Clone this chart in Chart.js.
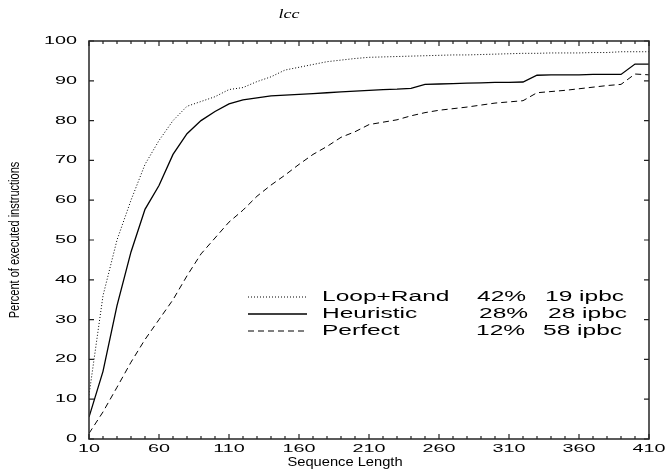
<!DOCTYPE html>
<html><head><meta charset="utf-8">
<script src="https://cdn.jsdelivr.net/npm/chart.js@4/dist/chart.umd.min.js"></script>
<style>html,body{margin:0;padding:0;background:#fff}#wrap{width:665px;height:470px}</style>
</head><body><div id="wrap"><canvas id="c" width="665" height="470"></canvas></div>
<script>
const title = "lcc";
const xLabel = "Sequence Length";
const yLabel = "Percent of executed instructions";
const seqLength = [10,20,30,40,50,60,70,80,90,100,110,120,130,140,150,160,170,180,190,200,210,220,230,240,250,260,270,280,290,300,310,320,330,340,350,360,370,380,390,400,410];
const loopRand = [11,36,50,60,69,75,80,83.6,84.8,86,87.8,88.3,89.8,91,92.7,93.4,94.1,94.8,95.2,95.6,95.9,96.0,96.1,96.2,96.3,96.4,96.5,96.5,96.6,96.7,96.8,96.9,96.9,97,97,97,97.1,97.1,97.3,97.3,97.3];
const heuristic = [5.5,17,33.5,47,57.7,63.7,71.5,76.7,80,82.3,84.2,85.2,85.7,86.2,86.4,86.6,86.8,87.0,87.2,87.4,87.6,87.8,87.9,88.1,89.1,89.2,89.3,89.4,89.5,89.6,89.6,89.7,91.4,91.5,91.5,91.5,91.6,91.6,91.6,94.2,94.2];
const perfect = [1.4,6.8,13,19.3,25,30,35,41,46.5,50.5,54.5,57.5,61,63.8,66.3,69,71.5,73.5,75.8,77.2,79,79.6,80.2,81.2,82,82.6,83,83.4,83.9,84.4,84.7,85,87,87.3,87.6,88,88.4,88.8,89.1,91.7,91.5];
const seriesNames = ["Loop+Rand","Heuristic","Perfect"];
const seriesPct = ["42%","28%","12%"];
const seriesIpbc = ["19 ipbc","28 ipbc","58 ipbc"];
const xTicks = [10,60,110,160,210,260,310,360,410];
const xMinorTicks = [10,20,30,40,50,60,70,80,90,100,110,120,130,140,150,160,170,180,190,200,210,220,230,240,250,260,270,280,290,300,310,320,330,340,350,360,370,380,390,400,410];
const yTicks = [0,10,20,30,40,50,60,70,80,90,100];

const dashes = [[1,2],[],[6,4]];
const widths = [1,1.3,1];

function toPts(arr){ return seqLength.map((x,i)=>({x:x,y:arr[i]})); }

const SX = 1.8;
function stretchText(ctx, txt, x, y, align, sx){
  ctx.save();
  ctx.translate(x, y);
  ctx.scale(sx, 1);
  ctx.textAlign = align;
  ctx.fillText(txt, 0, 0);
  ctx.restore();
}

const decor = {
  id:'decor',
  afterDraw(chart){
    const ctx = chart.ctx, a = chart.chartArea;
    const xs = chart.scales.x, ys = chart.scales.y;
    ctx.save();
    // frame
    ctx.strokeStyle = '#333';
    ctx.lineWidth = 1.6;
    ctx.strokeRect(a.left, a.top, a.right-a.left, a.bottom-a.top);
    // ticks
    ctx.lineWidth = 1.2;
    ctx.strokeStyle = '#222';
    ctx.beginPath();
    xMinorTicks.forEach(v=>{
      const p = xs.getPixelForValue(v);
      const L = xTicks.includes(v) ? 5 : 3;
      ctx.moveTo(p, a.bottom); ctx.lineTo(p, a.bottom-L);
      ctx.moveTo(p, a.top); ctx.lineTo(p, a.top+L);
    });
    yTicks.forEach(v=>{
      const p = ys.getPixelForValue(v);
      ctx.moveTo(a.left, p); ctx.lineTo(a.left+5, p);
      ctx.moveTo(a.right, p); ctx.lineTo(a.right-5, p);
    });
    ctx.stroke();
    // tick labels
    ctx.fillStyle = '#000';
    ctx.font = '11px "Liberation Sans", Arial, sans-serif';
    ctx.textBaseline = 'middle';
    yTicks.forEach(v=>{
      stretchText(ctx, String(v), a.left-12, ys.getPixelForValue(v), 'right', SX);
    });
    ctx.textBaseline = 'top';
    xTicks.forEach(v=>{
      stretchText(ctx, String(v), xs.getPixelForValue(v), a.bottom+4, 'center', SX);
    });
    // axis titles
    ctx.font = '13px "Liberation Sans", Arial, sans-serif';
    ctx.textBaseline = 'alphabetic';
    stretchText(ctx, xLabel, 345, 466, 'center', 1.13);
    ctx.font = '11px "Liberation Sans", Arial, sans-serif';
    ctx.save();
    ctx.translate(19, 240);
    ctx.rotate(-Math.PI/2);
    ctx.scale(1, 1.3);
    ctx.textAlign = 'center';
    ctx.fillText(yLabel, 0, 0);
    ctx.restore();
    // title
    ctx.font = 'italic 12px "Liberation Serif", "Times New Roman", serif';
    stretchText(ctx, title, 289, 18, 'center', 1.5);
    // legend
    const rows = [297, 314, 331];
    const pctX = [477, 479, 476];
    const ipbcX = [545, 548, 543];
    ctx.font = '14px "Liberation Sans", Arial, sans-serif';
    ctx.textBaseline = 'middle';
    rows.forEach((y,i)=>{
      ctx.save();
      ctx.strokeStyle = '#000';
      ctx.lineWidth = widths[i];
      ctx.setLineDash(dashes[i]);
      ctx.beginPath(); ctx.moveTo(248, y); ctx.lineTo(307, y); ctx.stroke();
      ctx.restore();
      stretchText(ctx, seriesNames[i], 322, y, 'left', 1.75);
      stretchText(ctx, seriesPct[i], pctX[i], y, 'left', 1.75);
      stretchText(ctx, seriesIpbc[i], ipbcX[i], y, 'left', 1.75);
    });
    ctx.restore();
  }
};

new Chart(document.getElementById('c'), {
  type:'line',
  data:{
    datasets:[loopRand, heuristic, perfect].map((arr,i)=>({
      label: seriesNames[i],
      data: toPts(arr),
      borderColor:'#000',
      borderWidth: widths[i],
      borderDash: dashes[i],
      pointRadius:0,
      tension:0,
      fill:false
    }))
  },
  options:{
    responsive:false,
    animation:false,
    devicePixelRatio:1,
    layout:{padding:{left:0,right:16,top:41,bottom:0}},
    plugins:{legend:{display:false},title:{display:false},tooltip:{enabled:false}},
    scales:{
      x:{type:'linear',min:10,max:410,
        afterBuildTicks(s){ s.ticks = xTicks.map(v=>({value:v})); },
        afterFit(s){ s.height = 31; },
        ticks:{display:false}, grid:{display:false}, border:{display:false}},
      y:{type:'linear',min:0,max:100,
        afterBuildTicks(s){ s.ticks = yTicks.map(v=>({value:v})); },
        afterFit(s){ s.width = 89; },
        ticks:{display:false}, grid:{display:false}, border:{display:false}}
    }
  },
  plugins:[decor]
});
</script></body></html>
